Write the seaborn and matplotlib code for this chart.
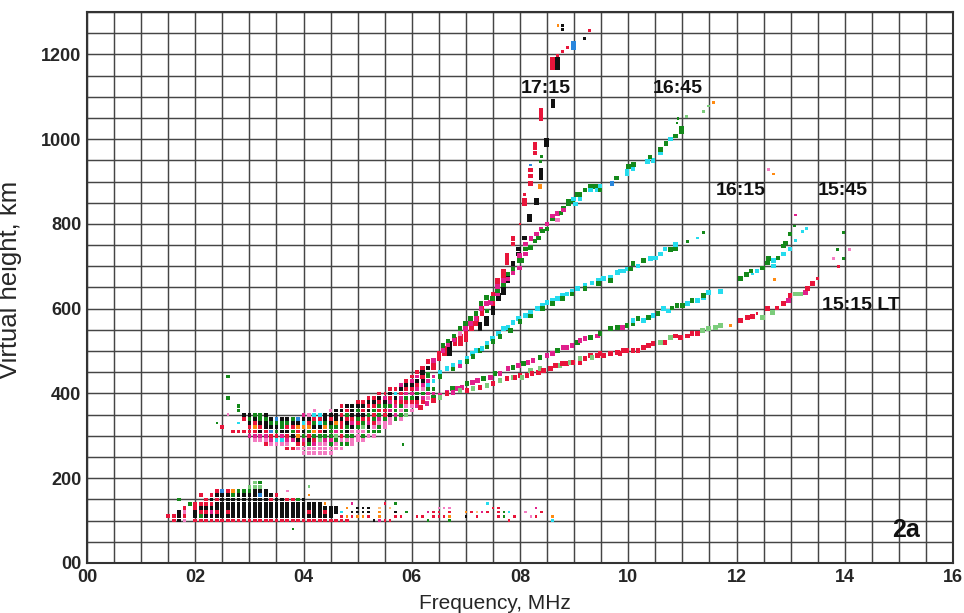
import matplotlib
matplotlib.use("Agg")
import matplotlib.pyplot as plt
import seaborn as sns
import pandas as pd
from matplotlib.ticker import MultipleLocator, FuncFormatter

sns.set_style("white")
plt.rcParams["font.family"] = ["Liberation Sans", "DejaVu Sans"]

# ---------------- data ----------------
# colour codes: R red, K black, G dark green, L light green, M magenta, P pink,
# C cyan, B blue, O orange, Y light orange; upper case = strong echo, lower = weak
code_colors = {"R": "#e8153a", "K": "#111111", "G": "#14891a", "L": "#7ccc7c",
               "M": "#e0208c", "P": "#f47cc2", "C": "#25dcee", "B": "#2a86dc",
               "O": "#ff8a10", "Y": "#ffc07a"}

# E-layer echoes: (frequency MHz, lowest height km, codes per 10 km bin upward)
e_layer_cols = [
    (1.5, 110, "R"), (1.6, 100, "RR"), (1.7, 100, "KKK..G"), (1.8, 100, "PRPR"),
    (1.9, 100, "....G"), (2.0, 100, "RKKRR"), (2.1, 100, "RGRKR.R"),
    (2.2, 100, "RKRKRR"), (2.3, 100, "RKMKRKR"), (2.4, 100, "RKRKKRKR"),
    (2.5, 100, "RKKKKKKB"), (2.6, 100, "RKRKKKKR"), (2.7, 100, "RKKKKKGO"),
    (2.8, 100, "RKKKKKKG"), (2.9, 100, "RKKKKKKG"), (3.0, 100, "RKKKKKKGL"),
    (3.1, 100, "RKKKKKKKLL"), (3.2, 100, "RKKKKKBKLG"), (3.3, 100, "RKKKKKKK"),
    (3.4, 100, "RKKKKRK"), (3.5, 100, "RKKKKKR"), (3.6, 100, "RKKKKK"),
    (3.7, 100, "RKKKKR.p"), (3.8, 80, "g.RKKKKR"), (3.9, 100, "RKKKKG"),
    (4.0, 100, "RKKKKK"), (4.1, 100, "RKRKK.o.l"), (4.2, 100, "RKKKK"),
    (4.3, 100, "RKKKK"), (4.4, 100, "RKRKo"), (4.5, 100, "RKKK"),
    (4.6, 100, "R.KK"), (4.7, 100, "Rrc"), (4.8, 100, "Ro.o"),
    (4.9, 110, "rk.m"), (5.0, 110, "okk"), (5.1, 110, "okk"), (5.2, 110, "rkk"),
    (5.3, 100, "k"), (5.4, 100, "mooy"), (5.5, 100, "r...r"), (5.6, 100, "r..y"),
    (5.7, 110, "rk.g"), (5.8, 110, "r"), (5.9, 120, "g"), (6.1, 110, "r"),
    (6.2, 110, "r"), (6.3, 100, "g.m"), (6.4, 110, "rr"), (6.5, 110, "rrp"),
    (6.6, 110, "r.p"), (6.7, 100, "gorp"), (7.0, 110, "ko"), (7.1, 120, "r"),
    (7.2, 110, "ry"), (7.3, 120, "m"), (7.4, 120, "r.c"), (7.5, 130, "r"),
    (7.6, 110, "rrr"), (7.7, 110, "gg"), (7.8, 100, "r.c"), (7.9, 110, "r"),
    (8.1, 120, "p"), (8.2, 110, "p"), (8.3, 110, "r.m"), (8.4, 120, "r"),
    (8.6, 100, "co"),
]

# low F-layer echoes where all soundings overlap
f_layer_cols = [
    (2.4, 330, "g"), (2.5, 320, "R"), (2.6, 350, "p...G....G"), (2.7, 310, "R"),
    (2.8, 310, "R.c..GG"), (2.9, 310, "R..RK"), (3.0, 300, "MRRKGK"),
    (3.1, 290, "PMRORKG"), (3.2, 290, "PMKRKGG"), (3.3, 280, "RPMRKKGK"),
    (3.4, 280, "PMRBKGK"), (3.5, 280, "PCRGKGB"), (3.6, 280, "PCMKGGK"),
    (3.7, 270, "RPMRKRGK"), (3.8, 270, "R.MKGRKG"), (3.9, 270, "PRKOROKB"),
    (4.0, 260, "PPRMGKOCKM"), (4.1, 260, "PPGKRGORKP"), (4.2, 260, "PPMRGOKGRCp"),
    (4.3, 260, "PPPLGRKCRC"), (4.4, 260, "PPPMGKOGKK"), (4.5, 260, "PPGMGGGKRKp"),
    (4.6, 270, "PPGLMGOKKK"), (4.7, 270, "PGPRGRRKRKR"), (4.8, 280, "GPGKGKRGRK"),
    (4.9, 280, "PPGPKMRKKK"), (5.0, 290, "PPPGRGKGKR"), (5.1, 290, "PGPLGRKRKR"),
    (5.2, 300, "PGKMRGKRKR"), (5.3, 300, "PGPRGRGRKR"), (5.4, 310, "GGPMGRGRKR"),
    (5.5, 320, "PPGRRGKMr"), (5.6, 330, "PPKMGMRKR"), (5.7, 340, "GMGMRKCR"),
    (5.8, 340, "PGPGRMRKM"), (5.9, 350, "LGPRGMRKR"), (6.0, 360, "PPRGMRKMR"),
    (6.1, 370, "MRKGMRKMR"), (6.2, 380, "RMGPMK"), (6.3, 390, "PMGCMG"),
    (6.4, 400, "MG.CM.G"), (5.84, 280, "g"),
]

trace_1715 = [
    (6.2, 440, "R"), (6.2, 450, "K"), (6.2, 460, "R"), (6.3, 445, "G"), (6.3, 460, "K"),
    (6.3, 475, "R"), (6.4, 460, "R"), (6.4, 470, "R"), (6.4, 478, "M"), (6.5, 482, "R"),
    (6.5, 494, "R"), (6.6, 494, "R"), (6.6, 506, "R"), (6.7, 494, "K"), (6.7, 506, "K"),
    (6.7, 518, "K"), (6.8, 518, "R"), (6.8, 527, "R"), (6.9, 518, "R"), (6.9, 527, "R"),
    (6.9, 536, "R"), (7.0, 527, "R"), (7.0, 537, "R"), (7.0, 548, "R"), (7.1, 553, "R"),
    (7.1, 565, "R"), (7.2, 565, "R"), (7.2, 577, "R"), (7.3, 588, "R"), (7.3, 600, "R"),
    (7.26, 553, "K"), (7.26, 562, "K"), (7.38, 565, "K"), (7.38, 577, "K"), (7.5, 590, "K"),
    (7.5, 600, "K"), (7.5, 612, "R"), (7.5, 624, "R"), (7.5, 635, "R"), (7.6, 624, "K"),
    (7.6, 631, "K"), (7.58, 659, "R"), (7.58, 666, "R"), (7.7, 638, "K"), (7.7, 647, "K"),
    (7.7, 678, "R"), (7.7, 689, "R"), (7.78, 666, "K"), (7.78, 673, "K"), (7.76, 708, "R"),
    (7.76, 718, "R"), (7.76, 727, "R"), (7.87, 706, "K"), (7.87, 753, "R"), (7.87, 765, "R"),
    (7.97, 729, "K"), (7.97, 741, "K"), (8.0, 800, "r"), (8.08, 767, "K"), (8.08, 847, "R"),
    (8.08, 856, "R"), (8.08, 870, "r"), (8.17, 809, "K"), (8.17, 819, "K"), (8.19, 896, "R"),
    (8.19, 913, "R"), (8.19, 927, "R"), (8.19, 939, "b"), (8.28, 967, "R"), (8.28, 979, "R"),
    (8.28, 988, "R"), (8.3, 849, "K"), (8.3, 856, "K"), (8.37, 889, "O"), (8.39, 908, "K"),
    (8.39, 918, "K"), (8.39, 927, "K"), (8.38, 948, "g"), (8.39, 960, "g"), (8.49, 988, "K"),
    (8.49, 998, "K"), (8.39, 1049, "R"), (8.39, 1059, "R"), (8.39, 1068, "R"),
    (8.61, 1080, "K"), (8.61, 1089, "K"), (8.6, 1168, "R"), (8.6, 1178, "R"),
    (8.6, 1188, "R"), (8.69, 1168, "K"), (8.69, 1178, "K"), (8.69, 1188, "K"),
    (8.69, 1198, "r"), (8.78, 1207, "r"), (8.87, 1216, "r"), (8.99, 1216, "B"),
    (8.99, 1226, "B"), (9.19, 1238, "k"), (9.28, 1256, "r"), (8.78, 1259, "k"),
    (8.78, 1268, "k"), (8.70, 1268, "o"),
]

trace_1645 = [
    (6.58, 501, "M"), (6.58, 513, "G"), (6.67, 515, "M"), (6.67, 524, "G"), (6.78, 527, "M"),
    (6.78, 536, "G"), (6.89, 541, "P"), (6.89, 553, "G"), (6.99, 553, "M"), (6.99, 565, "G"),
    (7.08, 565, "M"), (7.08, 577, "G"), (7.19, 577, "M"), (7.19, 588, "G"), (7.28, 600, "M"),
    (7.28, 612, "G"), (7.39, 595, "G"), (7.38, 612, "M"), (7.38, 626, "G"), (7.45, 614, "M"),
    (7.49, 624, "G"), (7.58, 635, "M"), (7.58, 642, "G"), (7.58, 652, "M"), (7.69, 656, "G"),
    (7.69, 666, "M"), (7.78, 670, "M"), (7.78, 682, "G"), (7.87, 685, "M"), (7.87, 694, "G"),
    (7.99, 696, "M"), (7.99, 713, "G"), (7.99, 725, "M"), (8.04, 713, "G"), (8.1, 729, "M"),
    (8.1, 741, "G"), (8.1, 753, "M"), (8.19, 744, "G"), (8.2, 765, "M"), (8.28, 760, "G"),
    (8.3, 776, "M"), (8.34, 767, "G"), (8.39, 788, "M"), (8.41, 783, "G"), (8.5, 800, "M"),
    (8.5, 788, "G"), (8.6, 812, "G"), (8.6, 819, "M"), (8.69, 824, "M"), (8.69, 809, "P"),
    (8.76, 826, "G"), (8.8, 838, "G"), (8.8, 833, "M"), (8.89, 847, "G"), (8.89, 854, "G"),
    (8.98, 854, "G"), (8.99, 859, "C"), (9.02, 847, "C"), (9.05, 870, "G"), (9.11, 859, "C"),
    (9.11, 870, "G"), (9.2, 880, "G"), (9.3, 889, "G"), (9.3, 880, "C"), (9.39, 889, "G"),
    (9.43, 880, "C"), (9.48, 889, "C"), (9.48, 880, "G"), (9.7, 896, "B"), (9.78, 908, "G"),
    (9.98, 918, "C"), (9.98, 925, "C"), (10.0, 936, "G"), (10.09, 930, "C"), (10.1, 940, "G"),
    (10.35, 948, "C"), (10.46, 950, "C"), (10.4, 958, "G"), (10.6, 967, "C"), (10.6, 976, "G"),
    (10.7, 990, "G"), (10.78, 1000, "C"), (10.87, 1007, "G"), (10.98, 1017, "G"),
    (10.98, 1026, "G"), (10.9, 1038, "g"), (10.92, 1049, "g"), (11.07, 1054, "l"),
    (11.39, 1066, "l"), (11.48, 1078, "l"), (11.57, 1087, "o"),
]

trace_1615 = [
    (6.52, 449, "C"), (6.52, 440, "G"), (6.65, 459, "C"), (6.76, 466, "C"), (6.76, 458, "G"),
    (6.89, 473, "C"), (6.89, 465, "M"), (7.02, 482, "C"), (7.02, 475, "G"), (7.12, 494, "C"),
    (7.13, 487, "G"), (7.2, 501, "C"), (7.26, 501, "G"), (7.3, 506, "C"), (7.39, 518, "C"),
    (7.39, 510, "G"), (7.49, 529, "C"), (7.5, 522, "G"), (7.6, 541, "C"), (7.63, 535, "G"),
    (7.69, 553, "C"), (7.78, 555, "C"), (7.82, 548, "G"), (7.87, 567, "C"), (7.97, 577, "C"),
    (8.0, 570, "G"), (8.1, 584, "C"), (8.19, 591, "C"), (8.19, 583, "G"), (8.32, 600, "C"),
    (8.41, 607, "C"), (8.41, 600, "G"), (8.5, 614, "C"), (8.6, 619, "C"), (8.6, 612, "G"),
    (8.69, 624, "C"), (8.78, 631, "C"), (8.78, 624, "G"), (8.87, 635, "C"), (8.96, 642, "C"),
    (8.96, 635, "G"), (9.06, 647, "C"), (9.2, 654, "C"), (9.2, 647, "G"), (9.33, 661, "C"),
    (9.45, 666, "C"), (9.45, 659, "G"), (9.54, 671, "C"), (9.67, 673, "C"), (9.67, 666, "G"),
    (9.8, 685, "C"), (9.85, 689, "C"), (9.91, 689, "C"), (9.98, 694, "C"), (10.04, 694, "G"),
    (10.09, 706, "G"), (10.18, 701, "C"), (10.28, 713, "G"), (10.41, 718, "C"),
    (10.5, 720, "C"), (10.59, 729, "C"), (10.68, 741, "C"), (10.78, 739, "G"),
    (10.87, 741, "G"), (10.87, 751, "C"), (11.09, 758, "g"), (11.28, 767, "c"),
    (11.39, 779, "g"),
]

trace_1545 = [
    (6.4, 391, "G"), (6.52, 395, "M"), (6.65, 402, "M"), (6.75, 412, "G"), (6.84, 412, "M"),
    (6.93, 414, "M"), (7.02, 424, "G"), (7.12, 426, "M"), (7.21, 431, "M"), (7.32, 435, "G"),
    (7.45, 438, "M"), (7.54, 447, "G"), (7.63, 447, "M"), (7.78, 459, "M"), (7.87, 461, "G"),
    (7.97, 466, "M"), (8.06, 471, "G"), (8.15, 473, "M"), (8.24, 478, "M"), (8.37, 485, "G"),
    (8.5, 489, "M"), (8.6, 494, "M"), (8.69, 501, "G"), (8.8, 508, "M"), (8.87, 508, "M"),
    (8.96, 513, "M"), (9.06, 520, "G"), (9.11, 525, "M"), (9.2, 529, "M"), (9.3, 532, "G"),
    (9.43, 536, "M"), (9.48, 541, "G"), (9.67, 553, "G"), (9.8, 555, "G"), (9.89, 555, "M"),
    (9.98, 560, "G"), (10.09, 565, "G"), (10.09, 572, "C"), (10.18, 577, "G"),
    (10.28, 572, "C"), (10.37, 579, "G"), (10.46, 584, "C"), (10.55, 588, "G"),
    (10.65, 600, "C"), (10.74, 595, "C"), (10.81, 602, "G"), (10.9, 607, "G"),
    (11.0, 607, "G"), (11.09, 612, "C"), (11.18, 619, "G"), (11.28, 619, "C"),
    (11.39, 626, "C"), (11.39, 631, "G"), (11.48, 638, "C"), (11.7, 640, "C"),
    (12.07, 671, "G"), (12.18, 680, "G"), (12.27, 689, "G"), (12.29, 682, "c"),
    (12.38, 689, "C"), (12.48, 696, "G"), (12.57, 708, "G"), (12.59, 718, "G"),
    (12.68, 713, "C"), (12.68, 701, "C"), (12.7, 668, "o"), (12.77, 720, "G"),
    (12.87, 729, "C"), (12.87, 748, "G"), (12.9, 755, "G"), (12.99, 776, "G"),
    (12.99, 741, "C"), (13.09, 760, "c"), (13.07, 795, "g"), (13.09, 821, "m"),
    (13.22, 783, "c"), (13.29, 790, "c"), (12.59, 929, "p"), (12.68, 918, "o"),
    (13.79, 718, "p"), (13.86, 739, "g"), (13.88, 699, "r"), (13.97, 718, "g"),
    (13.97, 779, "g"), (14.09, 739, "p"),
]

trace_1515 = [
    (6.16, 367, "R"), (6.28, 376, "M"), (6.4, 384, "R"), (6.52, 391, "L"), (6.65, 400, "R"),
    (6.76, 402, "M"), (6.89, 407, "L"), (7.02, 407, "R"), (7.13, 412, "L"), (7.26, 414, "R"),
    (7.39, 419, "L"), (7.5, 424, "R"), (7.63, 431, "L"), (7.76, 435, "R"), (7.87, 438, "L"),
    (7.91, 438, "R"), (8.0, 442, "R"), (8.04, 438, "L"), (8.13, 442, "R"), (8.19, 454, "L"),
    (8.22, 447, "R"), (8.34, 449, "R"), (8.37, 459, "L"), (8.43, 454, "R"), (8.56, 459, "R"),
    (8.65, 466, "R"), (8.74, 466, "L"), (8.78, 471, "R"), (8.87, 471, "R"), (8.93, 473, "L"),
    (8.98, 473, "R"), (9.11, 473, "R"), (9.11, 482, "L"), (9.2, 482, "R"), (9.3, 489, "R"),
    (9.33, 485, "L"), (9.43, 489, "R"), (9.48, 494, "R"), (9.54, 489, "R"), (9.67, 494, "R"),
    (9.8, 496, "R"), (9.85, 494, "R"), (9.91, 501, "R"), (9.98, 501, "R"), (10.09, 501, "R"),
    (10.18, 501, "R"), (10.28, 508, "R"), (10.37, 513, "R"), (10.46, 518, "R"),
    (10.59, 520, "L"), (10.68, 520, "R"), (10.78, 532, "L"), (10.87, 536, "R"),
    (10.96, 532, "R"), (11.09, 536, "R"), (11.18, 541, "R"), (11.28, 541, "R"),
    (11.37, 548, "L"), (11.48, 553, "L"), (11.61, 555, "L"), (11.7, 560, "L"),
    (11.89, 560, "o"), (12.07, 572, "R"), (12.2, 579, "R"), (12.29, 581, "R"),
    (12.38, 588, "r"), (12.48, 579, "L"), (12.57, 600, "R"), (12.66, 591, "L"),
    (12.75, 602, "R"), (12.87, 612, "R"), (12.96, 619, "M"), (12.99, 631, "R"),
    (13.09, 635, "L"), (13.18, 635, "L"), (13.27, 638, "M"), (13.31, 647, "R"),
    (13.4, 659, "R"), (13.49, 671, "r"),
]

trace_labels = ["17:15", "16:45", "16:15", "15:45", "15:15 LT"]
label_freq = [8.47, 10.92, 12.07, 13.97, 14.29]
label_height = [1120, 1120, 878, 878, 607]
panel_label = "2a"

x_ticks_major = [0, 2, 4, 6, 8, 10, 12, 14, 16]
y_ticks_major = [0, 200, 400, 600, 800, 1000, 1200]

# ---------------- build tables ----------------
grid_rows = []
for f, h0, codes in e_layer_cols + f_layer_cols:
    for i, c in enumerate(codes):
        if c != ".":
            grid_rows.append((f, h0 + 10 * i, c.upper(), "big" if c.isupper() else "small"))
df_grid = pd.DataFrame(grid_rows, columns=["freq", "height", "code", "strength"])

trace_rows = []
for trace in (trace_1715, trace_1645, trace_1615, trace_1545, trace_1515):
    for f, h, c in trace:
        trace_rows.append((f, h, c.upper(), "big" if c.isupper() else "small"))
df_trace = pd.DataFrame(trace_rows, columns=["freq", "height", "code", "strength"])

# ---------------- plot ----------------
fig = plt.figure(figsize=(9.64, 6.13), dpi=100)
ax = fig.add_axes([0.0903, 0.0816, 0.8983, 0.8988])

sns.scatterplot(data=df_grid, x="freq", y="height", hue="code", palette=code_colors,
                size="strength", sizes={"big": 7.5, "small": 3}, marker="s",
                linewidth=0, legend=False, ax=ax, zorder=3)
sns.scatterplot(data=df_trace, x="freq", y="height", hue="code", palette=code_colors,
                size="strength", sizes={"big": 11, "small": 4}, marker="s",
                linewidth=0, legend=False, ax=ax, zorder=3)

ax.set_xlim(0, 16)
ax.set_ylim(0, 1300)
ax.xaxis.set_major_locator(MultipleLocator(0.5))
ax.yaxis.set_major_locator(MultipleLocator(50))
ax.xaxis.set_minor_locator(MultipleLocator(0.1))
ax.yaxis.set_minor_locator(MultipleLocator(10))
ax.xaxis.set_major_formatter(FuncFormatter(
    lambda v, p: f"{int(round(v)):02d}" if round(v, 3) in x_ticks_major else ""))
ax.yaxis.set_major_formatter(FuncFormatter(
    lambda v, p: ("00" if v == 0 else f"{int(round(v))}") if round(v) in y_ticks_major else ""))
ax.tick_params(axis="both", which="major", length=3, width=1, color="#333333",
               labelsize=13, pad=1, direction="out")
ax.tick_params(axis="both", which="minor", length=2, width=0.8, color="#333333",
               direction="out")
for lab in ax.get_xticklabels() + ax.get_yticklabels():
    lab.set_fontweight("bold")

ax.grid(True, which="major", color="#454545", linewidth=1.05)
ax.set_axisbelow(True)
for s in ax.spines.values():
    s.set_color("#333333")
    s.set_linewidth(1.5)

ax.set_xlabel("Frequency, MHz", fontsize=15)
ax.set_ylabel("Virtual height, km", fontsize=18.5)
ax.xaxis.set_label_coords(0.471, -0.056)
ax.yaxis.set_label_coords(-0.075, 0.514)

for t, fx, hy in zip(trace_labels, label_freq, label_height):
    ax.text(fx, hy, t, ha="center", va="center", fontsize=14, fontweight="bold",
            color="#111111", zorder=4)
ax.text(15.14, 78, panel_label, ha="center", va="center", fontsize=18,
        fontweight="bold", color="#111111", zorder=4)

fig.savefig("out.png", dpi=100, facecolor="white")
